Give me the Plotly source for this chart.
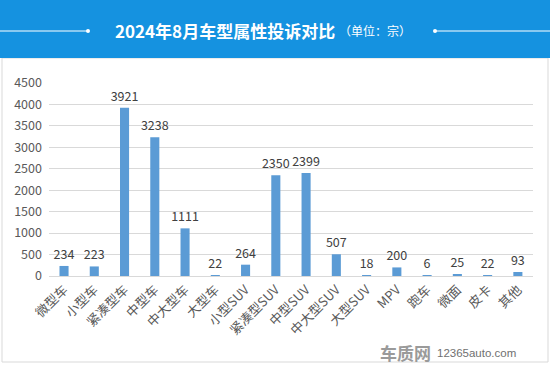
import plotly.graph_objects as go

categories = ["微型车", "小型车", "紧凑型车", "中型车", "中大型车", "大型车", "小型SUV", "紧凑型SUV",
              "中型SUV", "中大型SUV", "大型SUV", "MPV", "跑车", "微面", "皮卡", "其他"]
values = [234, 223, 3921, 3238, 1111, 22, 264, 2350, 2399, 507, 18, 200, 6, 25, 22, 93]
y_ticks = [0, 500, 1000, 1500, 2000, 2500, 3000, 3500, 4000, 4500]

W, H = 550, 365
FONT = "Noto Sans CJK SC, Microsoft YaHei, sans-serif"

def px(x):
    return x / W

def py(y):
    return 1 - y / H

fig = go.Figure()
fig.add_trace(go.Bar(
    x=categories, y=values,
    marker=dict(color="#5B9BD5", line=dict(width=0)),
    text=[str(v) for v in values], textposition="outside", constraintext="none",
    textfont=dict(size=12.5, color="#404040", family=FONT),
    cliponaxis=False, hoverinfo="skip",
))

shapes = [
    # panel border
    dict(type="rect", xref="paper", yref="paper", x0=px(2), x1=px(548), y0=py(362), y1=py(58),
         line=dict(color="#D9D9D9", width=1), fillcolor="white", layer="below"),
    # header band
    dict(type="rect", xref="paper", yref="paper", x0=0, x1=1, y0=py(58), y1=1,
         line=dict(width=0), fillcolor="#1592E0", layer="below"),
    # decorative lines
    dict(type="line", xref="paper", yref="paper", x0=0, x1=px(87), y0=py(31), y1=py(31),
         line=dict(color="white", width=1)),
    dict(type="line", xref="paper", yref="paper", x0=px(436), x1=1, y0=py(31), y1=py(31),
         line=dict(color="white", width=1)),
    dict(type="circle", xref="paper", yref="paper", x0=px(86), x1=px(90), y0=py(33), y1=py(29),
         line=dict(width=0), fillcolor="white"),
    dict(type="circle", xref="paper", yref="paper", x0=px(433), x1=px(437), y0=py(33), y1=py(29),
         line=dict(width=0), fillcolor="white"),
]

annotations = [
    dict(xref="paper", yref="paper", x=px(337), y=py(31), xanchor="right", yanchor="middle",
         text="<b>2024年8月车型属性投诉对比</b>", showarrow=False,
         font=dict(size=17, color="white", family=FONT)),
    dict(xref="paper", yref="paper", x=px(337), y=py(31), xanchor="left", yanchor="middle",
         text="（单位：宗）", showarrow=False,
         font=dict(size=12, color="white", family=FONT)),
    dict(xref="paper", yref="paper", x=px(433), y=py(352), xanchor="right", yanchor="middle",
         text="<b>车质网</b>", showarrow=False,
         font=dict(size=17, color="#9A9A9A", family=FONT)),
    dict(xref="paper", yref="paper", x=px(435), y=py(353), xanchor="left", yanchor="middle",
         text="12365auto.com", showarrow=False,
         font=dict(size=11.5, color="#707070", family="Liberation Sans, Arial, sans-serif")),
]

fig.update_layout(
    width=W, height=H,
    margin=dict(l=0, r=0, t=0, b=0),
    paper_bgcolor="white", plot_bgcolor="rgba(0,0,0,0)",
    showlegend=False, bargap=0.7,
    font=dict(family=FONT, color="#595959", size=12),
    shapes=shapes, annotations=annotations,
    xaxis=dict(domain=[px(48.9), px(533)], tickangle=-45, showgrid=False,
               showline=True, linecolor="#D9D9D9", ticks="", automargin=False,
               tickfont=dict(size=13, color="#595959", family=FONT), fixedrange=True),
    yaxis=dict(domain=[py(276), py(83)], range=[0, 4500], tickvals=y_ticks,
               showgrid=True, gridcolor="#D9D9D9", zeroline=False, ticks="",
               automargin=False, ticklabelstandoff=6,
               tickfont=dict(size=12.5, color="#595959", family=FONT), fixedrange=True),
)

fig.write_html("out.html", config={"displayModeBar": False},
               post_script="document.body.style.margin='0';document.body.style.overflow='hidden';")
